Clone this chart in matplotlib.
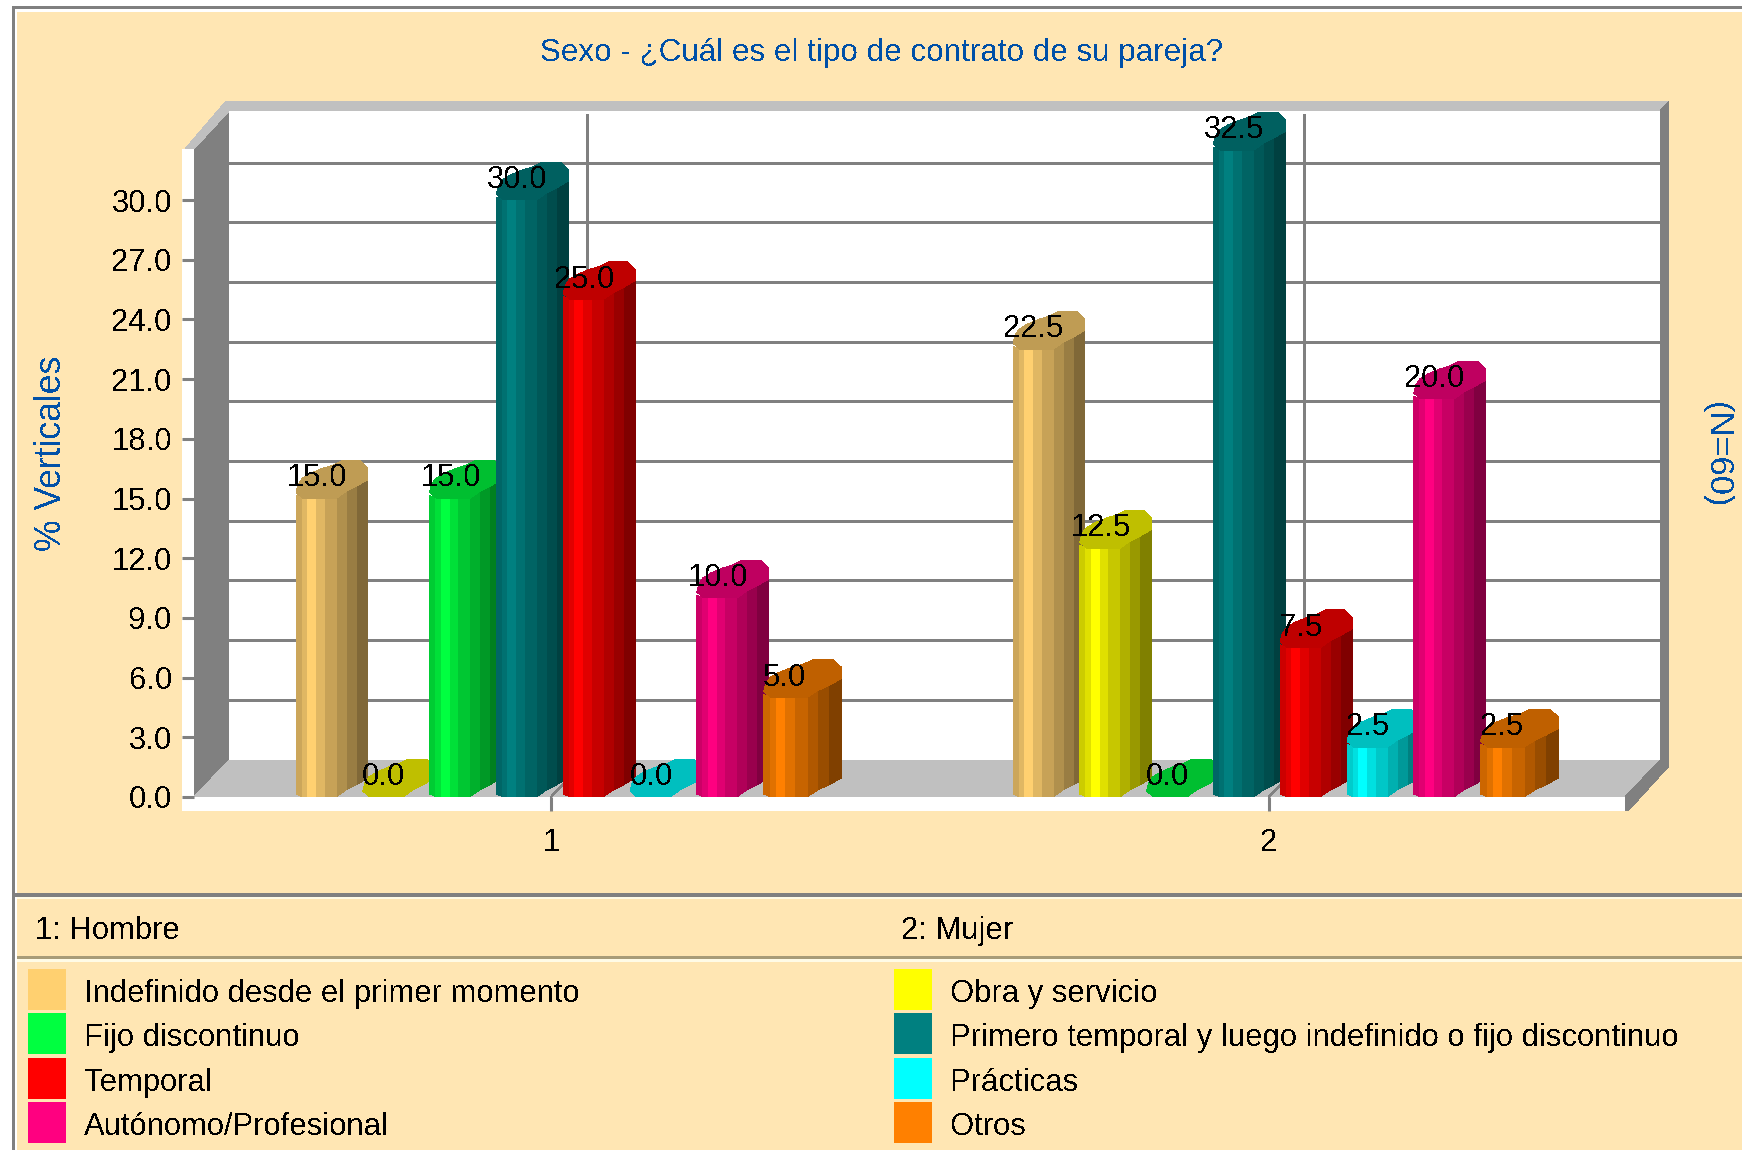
import numpy as np
import matplotlib
matplotlib.use("Agg")
import matplotlib.pyplot as plt
from matplotlib.patches import Polygon, Rectangle

# ---- data ----
groups = ["1", "2"]
series = ["Indefinido desde el primer momento", "Obra y servicio", "Fijo discontinuo",
          "Primero temporal y luego indefinido o fijo discontinuo", "Temporal",
          "Prácticas", "Autónomo/Profesional", "Otros"]
colors = ["#FFD070", "#FFFF00", "#00FF40", "#008080", "#FF0000", "#00FFFF", "#FF0080", "#FF8000"]
hombre = [15.0, 0.0, 15.0, 30.0, 25.0, 0.0, 10.0, 5.0]
mujer = [22.5, 12.5, 0.0, 32.5, 7.5, 2.5, 20.0, 2.5]
yticks = [0, 3, 6, 9, 12, 15, 18, 21, 24, 27, 30]
title = "Sexo - ¿Cuál es el tipo de contrato de su pareja?"
ylabel = "% Verticales"
rlabel = "(N=60)"
group_names = ["1: Hombre", "2: Mujer"]

# ---- style ----
W, H = 1742, 1150
FONT = "Liberation Sans"
plt.rcParams["font.family"] = FONT
plt.rcParams["text.antialiased"] = False
FS = 22
FS_LEG = 22.3
BLUE = "#0050A8"
PANEL = "#FFE6B3"
GRAY = "#808080"
LIGHT = "#C0C0C0"
Y0, UNIT = 797, 19.9
DEPTH = 37
BACK_L, BACK_R, BACK_T = 229, 1660, 111
FRONT_L, FRONT_R = 194, 1625
TICK1, TICK2 = 551, 1269
XUNIT = TICK2 - TICK1
STEP, START = 66.8, -255
stripe_edges = [0, 6, 11, 20, 29, 41, 51, 61, 72]
stripe_shade = [0.8, 0.88, 1.0, 0.88, 0.78, 0.69, 0.6, 0.5]
lower_x = [0, 7, 40, 50, 60, 72]
lower_y = [-3, 0, 0, -7, -12, -19]
cap_shape = [(0, -6), (2, -14), (6, -20), (14, -25), (26, -30), (36, -33), (46, -38), (64, -38),
             (72, -30), (72, -19), (60, -12), (50, -7), (40, 0), (7, 0)]
CAP_SHADE = 0.75

fig = plt.figure(figsize=(W / 100, H / 100), dpi=100, facecolor="white")

# background layer in pixel coordinates
bg = fig.add_axes([0, 0, 1, 1], zorder=0)
bg.set_xlim(0, W)
bg.set_ylim(H, 0)
bg.axis("off")


def rect(x0, y0, x1, y1, c, z=1):
    bg.add_patch(Rectangle((x0, y0), x1 - x0, y1 - y0, fc=c, ec="none", zorder=z, antialiased=False))


def poly(pts, c, z=2):
    bg.add_patch(Polygon(pts, closed=True, fc=c, ec="none", zorder=z, antialiased=False))


# frame
rect(12, 6, W, 9, GRAY)
rect(12, 6, 15, H, GRAY)
rect(17, 12, W, H, PANEL)
rect(15, 893, W, 896.5, GRAY, 3)
rect(17, 896.5, W, 899, "#FFFBE6", 3)
rect(17, 955.5, W, 958.5, "#A89C78", 3)
rect(17, 958.5, W, 962, "#FFFBE6", 3)

# 3D box
rect(BACK_L, BACK_T, BACK_R, Y0 - DEPTH, "white")
poly([(194, 149), (BACK_L, BACK_T), (BACK_L, Y0 - DEPTH), (194, Y0)], GRAY)
poly([(185, 149), (226, 101), (1669, 101), (1660, BACK_T), (BACK_L, BACK_T), (194, 149)], LIGHT)
poly([(BACK_L, Y0 - DEPTH), (BACK_R, Y0 - DEPTH), (FRONT_R, Y0), (194, Y0)], LIGHT)
rect(182, 149, 194, 811, "white")
rect(182, Y0, FRONT_R, 811, "white")
poly([(BACK_R, BACK_T), (1669, 101), (1669, 766), (1628, 811), (FRONT_R, 811), (FRONT_R, Y0), (BACK_R, Y0 - DEPTH)], GRAY)

for t in yticks[1:]:
    yb = Y0 - UNIT * t - DEPTH
    rect(BACK_L, yb - 1.5, BACK_R, yb + 1.5, GRAY, 3)
for tx, bx in ((TICK1, 587), (TICK2, 1304)):
    rect(bx - 1.5, BACK_T + 3, bx + 1.5, Y0 - DEPTH, GRAY, 3)
    bg.plot([bx, tx], [Y0 - DEPTH, Y0], color=GRAY, lw=1, zorder=3, antialiased=False)

# chart axes: the front plane of the box
ax = fig.add_axes([FRONT_L / W, (H - Y0) / H, (FRONT_R - FRONT_L) / W, 648 / H], zorder=2)
ax.patch.set_alpha(0)
for s in ax.spines.values():
    s.set_visible(False)
ax.set_xlim(1 + (FRONT_L - TICK1) / XUNIT, 1 + (FRONT_R - TICK1) / XUNIT)
ax.set_ylim(0, 648 / UNIT)
ax.set_yticks(yticks)
ax.set_yticklabels([f"{t:.1f}" for t in yticks], fontsize=FS_LEG)
ax.tick_params(axis="y", direction="out", length=12 * .72, width=2.2, color=GRAY, pad=7)
ax.set_xticks([1, 2])
ax.set_xticklabels(groups, fontsize=FS_LEG)
ax.tick_params(axis="x", direction="out", length=14 * .72, width=2.2, color=GRAY, pad=12.5)


def dx(p):
    return p / XUNIT


def dv(p):
    return -p / UNIT


def shade(col, f):
    rgb = np.array(matplotlib.colors.to_rgb(col)) * f
    return tuple(rgb)


def draw_bar(center, i, value, shift):
    x0 = center + dx(START + STEP * i + shift)
    scale = 78 / 72 if i == len(series) - 1 else 1.0
    z = 5 + i + center * 20
    if value > 0:
        for k in range(len(stripe_shade)):
            a, b = stripe_edges[k], stripe_edges[k + 1]
            xs = [a] + [q for q in lower_x if a < q < b] + [b]
            ys = np.interp(xs, lower_x, lower_y)
            pts = [(x0 + dx(q * scale), dv(r)) for q, r in zip(xs, ys)]
            pts += [(x0 + dx(q * scale), value + dv(r)) for q, r in zip(xs[::-1], ys[::-1])]
            ax.add_patch(Polygon(pts, closed=True, fc=shade(colors[i], stripe_shade[k]), ec="none",
                                 zorder=z, clip_on=False, antialiased=False))
    pts = [(x0 + dx(q * scale), value + dv(r)) for q, r in cap_shape]
    ax.add_patch(Polygon(pts, closed=True, fc=shade(colors[i], CAP_SHADE), ec="none",
                         zorder=z, clip_on=False, antialiased=False))
    ax.text(x0 + dx(21), value + dv(-20), f"{value:.1f}", ha="center", va="center", fontsize=FS_LEG,
            color="black", zorder=100, clip_on=False)


for c, vals, shift in zip([1, 2], [hombre, mujer], [0, -1]):
    for i, v in enumerate(vals):
        draw_bar(c, i, v, shift)

# titles
bg.text(882, 53, title, ha="center", va="center", fontsize=22.6, color=BLUE)
bg.text(51, 453, ylabel, ha="center", va="center", rotation=90, fontsize=25.6, color=BLUE)
bg.text(1716, 455, rlabel, ha="center", va="center", rotation=-90, fontsize=24.8, color=BLUE)

# legend
bg.text(35, 931, group_names[0], ha="left", va="center", fontsize=FS_LEG, color="black")
bg.text(901, 931, group_names[1], ha="left", va="center", fontsize=FS_LEG, color="black")
rows = [969, 1013, 1058, 1102]
for i, name in enumerate(series):
    col, row = i % 2, i // 2
    sx = 28 if col == 0 else 894
    rect(sx, rows[row], sx + 38, rows[row] + 41, colors[i], 3)
    bg.text(84 if col == 0 else 950, rows[row] + 25, name, ha="left", va="center", fontsize=FS_LEG, color="black")

fig.savefig("out.png", dpi=100, facecolor="white")
